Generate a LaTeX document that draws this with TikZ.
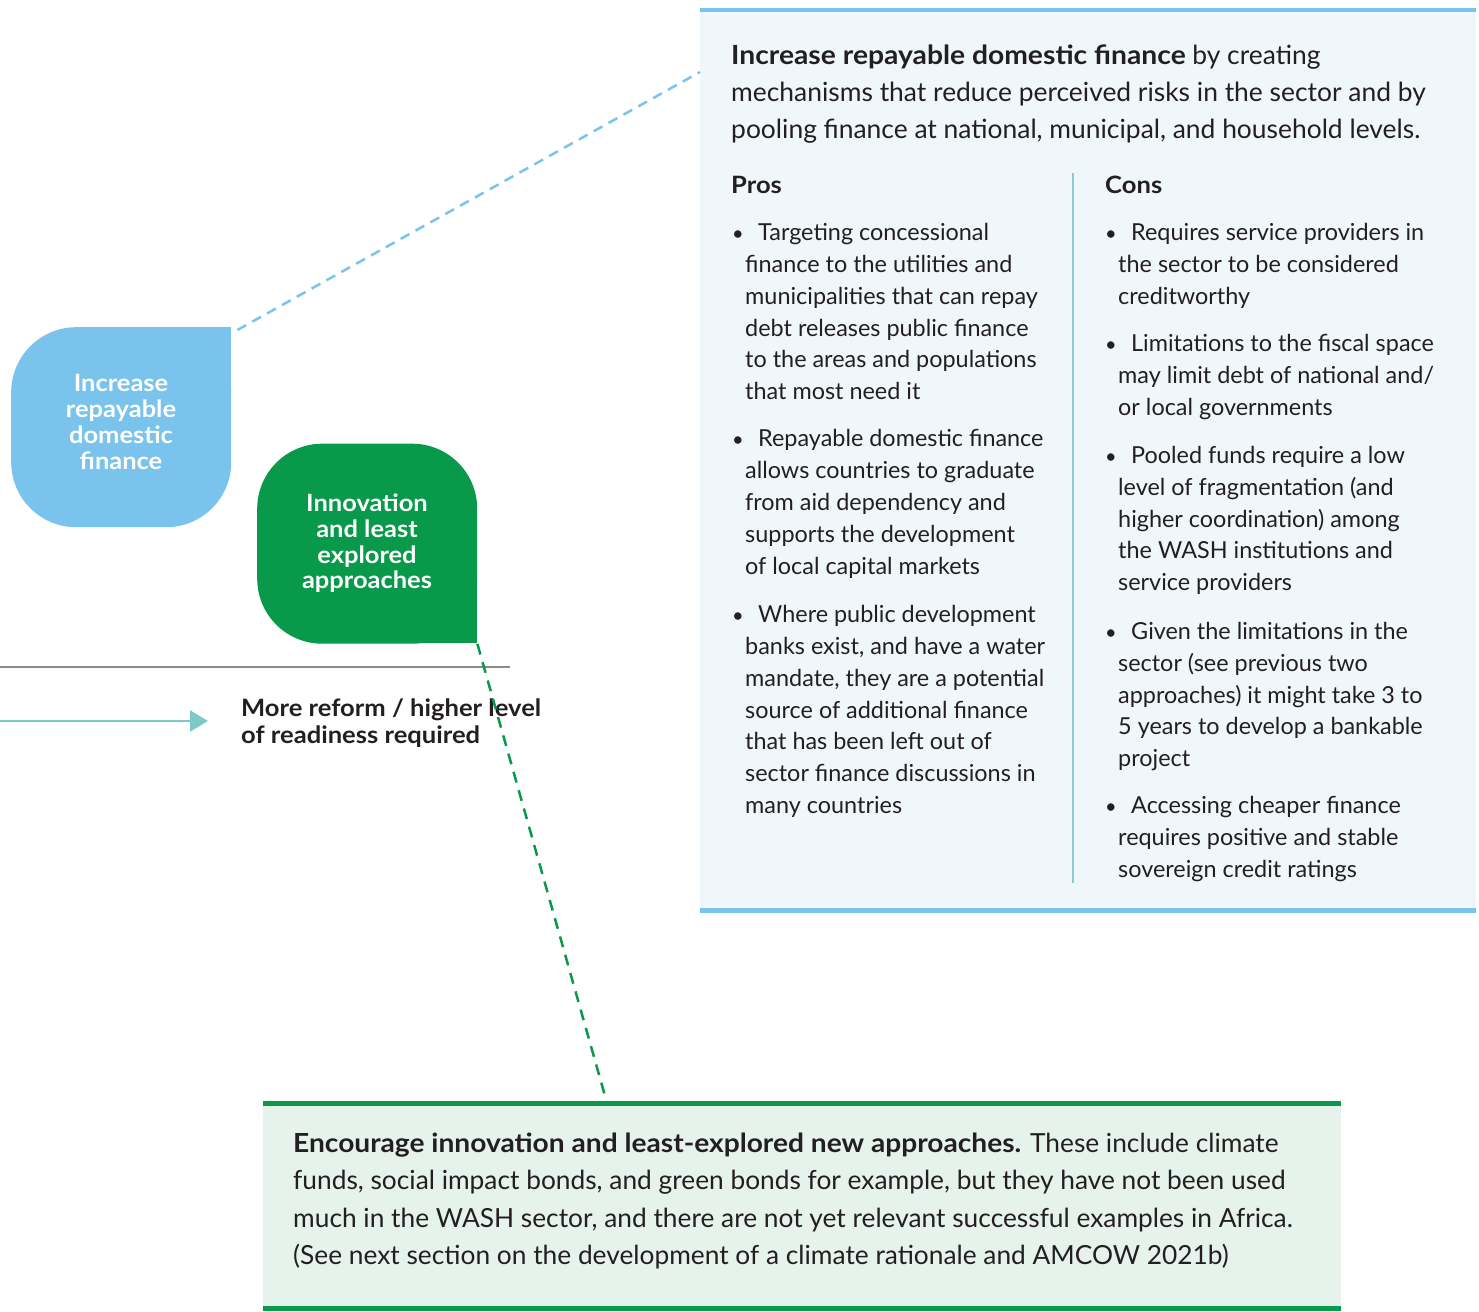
\documentclass[tikz,border=0pt]{standalone}
\usepackage{fontspec}
\setmainfont{Lato}[BoldFeatures={FakeStretch=1.07}]
\usetikzlibrary{arrows.meta}
\definecolor{skyb}{HTML}{79C3EC}
\definecolor{wgreen}{HTML}{08994A}
\definecolor{bluebg}{HTML}{F0F7FB}
\definecolor{greenbg}{HTML}{E5F3EC}
\definecolor{txt}{HTML}{231F20}
\definecolor{tealc}{HTML}{7DC9C9}
\definecolor{divc}{HTML}{8DCBCF}
\definecolor{grayl}{HTML}{8A8A8A}
\tikzset{
  para/.style={anchor=north west, inner sep=0pt, align=left, text=txt},
  bodyf/.style={font=\fontsize{23.4}{31.8}\selectfont},
  introf/.style={font=\fontsize{26.4}{37}\selectfont},
  bottomf/.style={font=\fontsize{26.3}{37.5}\selectfont},
  headf/.style={font=\fontsize{23.9}{28}\selectfont\bfseries},
  bul/.style={anchor=base, inner sep=0pt, text=txt, font=\fontsize{20}{24}\selectfont},
  shapebox/.style={minimum width=220pt, minimum height=200pt, inner sep=0pt, rounded corners=65pt, draw=none},
  shapetext/.style={anchor=north, inner sep=0pt, align=center, text=white, font=\fontsize{23.8}{25.9}\selectfont\bfseries},
  bluedash/.style={draw=skyb, line width=2.5pt, dash pattern=on 10pt off 7pt},
  greendash/.style={draw=wgreen, line width=2.5pt, dash pattern=on 11pt off 8pt},
}
\begin{document}
\begin{tikzpicture}[x=1pt,y=-1pt]
\useasboundingbox (0,0) rectangle (1479,1311);
% ---------- right panel ----------
\node[fill=bluebg, minimum width=776pt, minimum height=900pt, inner sep=0pt, anchor=north west] (probox) at (700,10) {};
\draw[skyb, line width=4.5pt] (probox.north west) -- (probox.north east);
\draw[skyb, line width=4.5pt] (probox.south west) -- (probox.south east);
\coordinate (divtop) at (1073,173);
\coordinate (divbot) at (1073,883);
\draw[divc, line width=1.5pt] (divtop) -- (divbot);

\node[para, introf] (intro) at (731,38.6) {\strut\textbf{Increase repayable domestic finance} by creating\\
mechanisms that reduce perceived risks in the sector and by\\
pooling finance at national, municipal, and household levels.};

\node[anchor=base west, inner sep=0pt, text=txt, headf] (pros) at (731,193) {Pros};
\node[anchor=base west, inner sep=0pt, text=txt, headf] (cons) at (1105,193) {Cons};

% Pros bullets
\node[bul] (pb1) at (738,240.5) {•};
\node[para, bodyf] (p1) at (745,218.24) {\strut\hspace*{13pt}Targeting concessional\\
finance to the utilities and\\
municipalities that can repay\\
debt releases public finance\\
to the areas and populations\\
that most need it};
\node[bul] (pb2) at (738,446.7) {•};
\node[para, bodyf] (p2) at (745,424.44) {\strut\hspace*{13pt}Repayable domestic finance\\
allows countries to graduate\\
from aid dependency and\\
supports the development\\
of local capital markets};
\node[bul] (pb3) at (738,622.5) {•};
\node[para, bodyf] (p3) at (745,600.24) {\strut\hspace*{13pt}Where public development\\
banks exist, and have a water\\
mandate, they are a potential\\
source of additional finance\\
that has been left out of\\
sector finance discussions in\\
many countries};

% Cons bullets
\node[bul] (cb1) at (1111,240.7) {•};
\node[para, bodyf] (c1) at (1118,218.44) {\strut\hspace*{13pt}Requires service providers in\\
the sector to be considered\\
creditworthy};
\node[bul] (cb2) at (1111,351.7) {•};
\node[para, bodyf] (c2) at (1118,329.44) {\strut\hspace*{13pt}Limitations to the fiscal space\\
may limit debt of national and/\\
or local governments};
\node[bul] (cb3) at (1111,463.3) {•};
\node[para, bodyf] (c3) at (1118,441.04) {\strut\hspace*{13pt}Pooled funds require a low\\
level of fragmentation (and\\
higher coordination) among\\
the WASH institutions and\\
service providers};
\node[bul] (cb4) at (1111,639.3) {•};
\node[para, bodyf] (c4) at (1118,617.04) {\strut\hspace*{13pt}Given the limitations in the\\
sector (see previous two\\
approaches) it might take 3 to\\
5 years to develop a bankable\\
project};
\node[bul] (cb5) at (1111,813.3) {•};
\node[para, bodyf] (c5) at (1118,791.04) {\strut\hspace*{13pt}Accessing cheaper finance\\
requires positive and stable\\
sovereign credit ratings};

% ---------- bottom panel ----------
\node[fill=greenbg, minimum width=1078pt, minimum height=205pt, inner sep=0pt, anchor=north west] (gbox) at (263,1103) {};
\draw[wgreen, line width=5pt] (gbox.north west) -- (gbox.north east);
\draw[wgreen, line width=5pt] (gbox.south west) -- (gbox.south east);
\node[para, bottomf] (btext) at (293,1125.75) {\strut\textbf{Encourage innovation and least-explored new approaches.} These include climate\\
funds, social impact bonds, and green bonds for example, but they have not been used\\
much in the WASH sector, and there are not yet relevant successful examples in Africa.\\
(See next section on the development of a climate rationale and AMCOW 2021b)};

% ---------- left shapes ----------
\fill[skyb] (161,327) rectangle (231,397);
\node[shapebox, fill=skyb, anchor=north west] (incshape) at (11,327) {};
\node[shapetext] (inctext) at (121,373.6) {\strut Increase\\repayable\\domestic\\finance};

\fill[wgreen] (407,573) rectangle (477,643);
\node[shapebox, fill=wgreen, anchor=north west] (innshape) at (257,443.5) {};
\node[shapetext] (inntext) at (367,492.9) {\strut Innovation\\and least\\explored\\approaches};

% ---------- axis & arrow ----------
\coordinate (gl0) at (0,667);
\coordinate (gl1) at (510,667);
\draw[grayl, line width=1.2pt] (gl0) -- (gl1);
\coordinate (arrS) at (0,721);
\coordinate (arrE) at (208,721);
\draw[tealc, line width=2.5pt, -{Triangle[length=18pt,width=21pt]}] (arrS) -- (arrE);
\node[para, font=\fontsize{23.9}{27}\selectfont\bfseries] (reform) at (241,697.1) {\strut More reform / higher level\\of readiness required};

% ---------- dashed connectors ----------
\draw[bluedash] ([xshift=6pt,yshift=-3pt]incshape.north east) -- ([yshift=-62pt]probox.north west);
\draw[greendash] (innshape.south east) -- ([xshift=344pt]gbox.north west);
\end{tikzpicture}
\end{document}
